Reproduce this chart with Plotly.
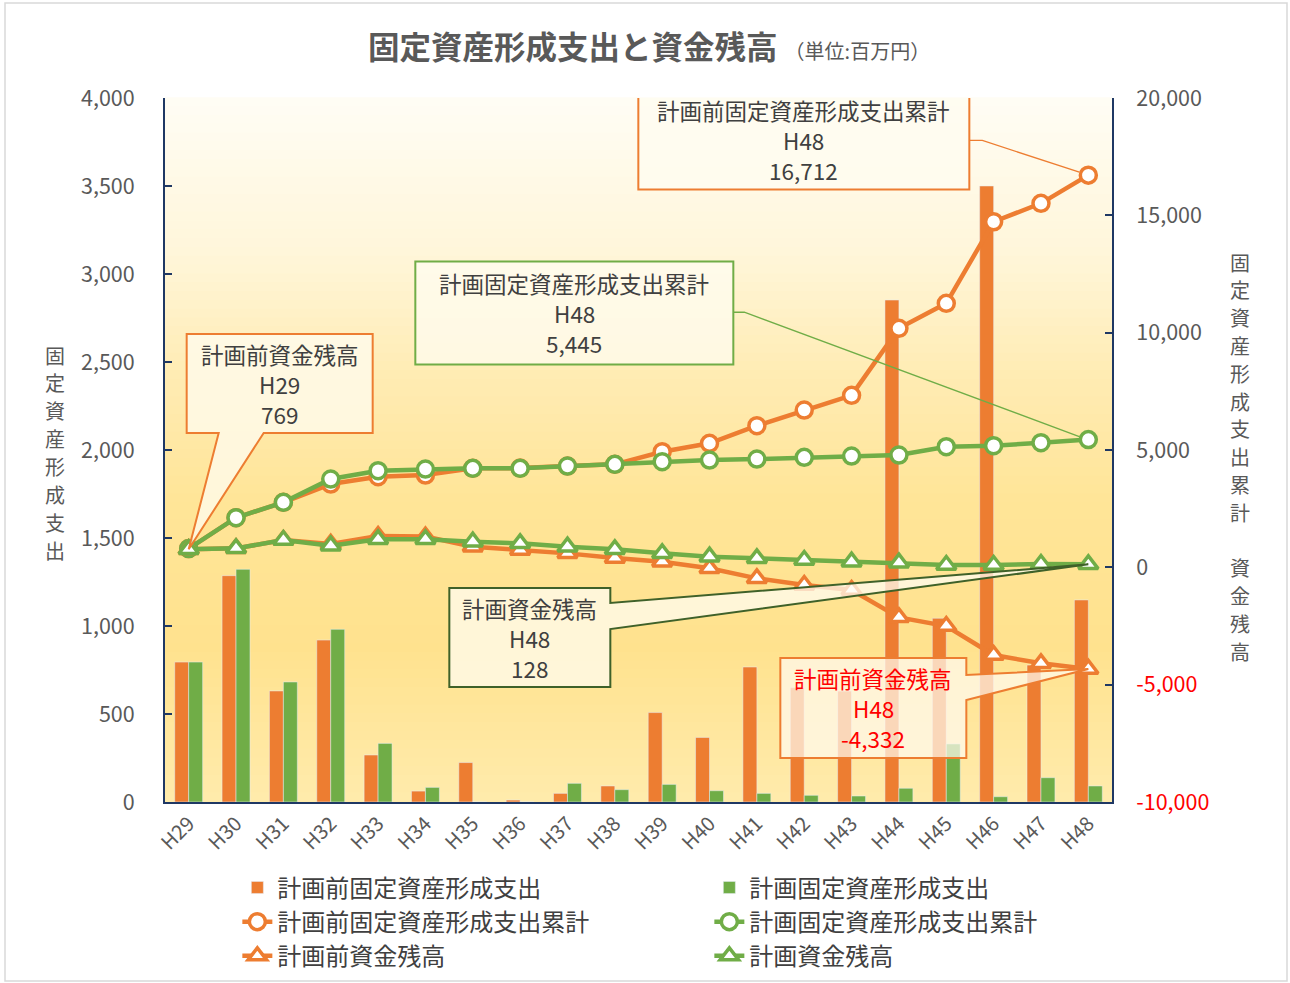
import plotly.graph_objects as go

# ---------------- data ----------------
categories = ["H29", "H30", "H31", "H32", "H33", "H34", "H35", "H36", "H37", "H38",
              "H39", "H40", "H41", "H42", "H43", "H44", "H45", "H46", "H47", "H48"]
pre_capex = [795, 1286, 631, 920, 267, 62, 224, 11, 49, 91,
             508, 367, 767, 650, 630, 2852, 1044, 3500, 778, 1148]
plan_capex = [795, 1322, 682, 981, 333, 83, 0, 0, 106, 70,
              100, 64, 49, 38, 34, 78, 330, 30, 138, 91]
pre_cum = [800, 2114, 2770, 3550, 3861, 3933, 4218, 4229, 4317, 4389,
           4927, 5284, 6035, 6703, 7329, 10184, 11250, 14727, 15511, 16712]
plan_cum = [800, 2114, 2770, 3763, 4117, 4189, 4218, 4218, 4317, 4389,
            4500, 4572, 4615, 4687, 4743, 4786, 5140, 5183, 5310, 5445]
pre_bal = [769, 809, 1163, 1000, 1335, 1310, 880, 740, 595, 400,
           242, -43, -469, -754, -967, -2131, -2501, -3737, -4091, -4332]
plan_bal = [769, 809, 1163, 920, 1193, 1193, 1092, 1023, 878, 767,
            597, 452, 384, 311, 239, 196, 98, 98, 141, 128]

left_ticks = [0, 500, 1000, 1500, 2000, 2500, 3000, 3500, 4000]
right_ticks = [-10000, -5000, 0, 5000, 10000, 15000, 20000]

names = ["計画前固定資産形成支出", "計画固定資産形成支出",
         "計画前固定資産形成支出累計", "計画固定資産形成支出累計",
         "計画前資金残高", "計画資金残高"]

left_title = "固定資産形成支出"
right_title = "固定資産形成支出累計　資金残高"

ORANGE = "#ED7D31"
GREEN = "#70AD47"
NAVY = "#1F3864"
TXT = "#595959"
FONT = "Noto Sans CJK JP"

fig = go.Figure()
fig.add_trace(go.Bar(x=categories, y=pre_capex, name=names[0], marker_color=ORANGE, yaxis="y"))
fig.add_trace(go.Bar(x=categories, y=plan_capex, name=names[1], marker_color=GREEN, yaxis="y"))

def line_trace(y, name, color, symbol):
    return go.Scatter(x=categories, y=y, name=name, yaxis="y2", mode="lines+markers",
                      line=dict(color=color, width=4.5),
                      marker=dict(symbol=symbol, size=16 if symbol == "circle" else 17,
                                  color="white", line=dict(color=color, width=3.5)))

fig.add_trace(line_trace(pre_cum, names[2], ORANGE, "circle"))
fig.add_trace(line_trace(plan_cum, names[3], GREEN, "circle"))
fig.add_trace(line_trace(pre_bal, names[4], ORANGE, "triangle-up"))
fig.add_trace(line_trace(plan_bal, names[5], GREEN, "triangle-up"))

# ---------------- background gradient ----------------
stops = [(0.0, (255, 253, 245)), (0.22, (255, 246, 218)), (0.39, (255, 236, 180)),
         (0.57, (255, 229, 152)), (0.78, (255, 226, 142)), (1.0, (255, 235, 172))]

def grad_color(t):
    for (t0, c0), (t1, c1) in zip(stops[:-1], stops[1:]):
        if t0 <= t <= t1:
            f = (t - t0) / (t1 - t0)
            return "rgb(%d,%d,%d)" % tuple(round(a + (b - a) * f) for a, b in zip(c0, c1))
    return "rgb(%d,%d,%d)" % stops[-1][1]

shapes = []
N = 80
for i in range(N):
    top = 1 - i / N
    bot = 1 - (i + 1) / N
    shapes.append(dict(type="rect", xref="paper", yref="paper", x0=0, x1=1, y0=bot, y1=top + 0.001,
                       fillcolor=grad_color((i + 0.5) / N), line=dict(width=0), layer="below"))

# page border
shapes.append(dict(type="rect", xref="paper", yref="paper",
                   x0=(5 - 165) / 947, x1=(1287 - 165) / 947,
                   y0=(802 - 981) / 704, y1=(802 - 3) / 704,
                   line=dict(color="#D9D9D9", width=1.5), fillcolor="rgba(0,0,0,0)", layer="below"))

# ---------------- callouts ----------------
def pix_path(pts, close=True):
    s = "M " + " L ".join("%g %g" % p for p in pts)
    return s + (" Z" if close else "")

def callout(cat, val, pts, fill, border, bw=2, close=True):
    return dict(type="path", xref="x", yref="y2", xsizemode="pixel", ysizemode="pixel",
                xanchor=cat, yanchor=val, path=pix_path(pts, close),
                fillcolor=fill if close else "rgba(0,0,0,0)",
                line=dict(color=border, width=bw), layer="above")

CREAM = "rgba(255,252,240,0.75)"
last = categories[-1]
first = categories[0]

# box 1 : pre cumulative, H48
shapes.append(callout(last, pre_cum[-1], [(-450, 83.7), (-119, 83.7), (-119, -14.3), (-450, -14.3)],
                      CREAM, ORANGE))
shapes.append(callout(last, pre_cum[-1], [(-119, 34.7), (-106, 34.7), (-9, 3)], None, ORANGE, 1.3, close=False))
# box 2 : plan cumulative, H48
shapes.append(callout(last, plan_cum[-1], [(-673, 178), (-355, 178), (-355, 75), (-673, 75)],
                      CREAM, GREEN))
shapes.append(callout(last, plan_cum[-1], [(-355, 127.3), (-344, 127.3), (-9, 3)], None, GREEN, 1.3, close=False))
# box 3 : pre balance, H29
shapes.append(callout(first, pre_bal[0], [(-2, 215.3), (184, 215.3), (184, 116.3), (75, 116.3), (0, 0),
                                          (30, 116.3), (-2, 116.3)], CREAM, ORANGE))
# box 4 : plan balance, H48
shapes.append(callout(last, plan_bal[-1], [(-639, -23.7), (-478, -23.7), (-478, -38.7), (0, 0),
                                           (-478, -64.7), (-478, -122.7), (-639, -122.7)],
                      CREAM, "#3F6129"))
# box 5 : pre balance, H48
shapes.append(callout(last, pre_bal[-1], [(-308, 11), (-122, 11), (-122, -6), (0, 0), (-122, -31),
                                          (-122, -89), (-308, -89)], "rgba(255,250,238,0.72)", ORANGE))

annotations = []

def ctext(cat, val, lines, dx, dy, color="#404040"):
    for k, label in enumerate(lines):
        annotations.append(dict(x=cat, y=val, xref="x", yref="y2", showarrow=False,
                                xshift=dx, yshift=dy + 30 * (1 - k), borderpad=0,
                                xanchor="center", yanchor="middle", align="center",
                                text=label, font=dict(family=FONT, size=22.5, color=color)))

ctext(last, pre_cum[-1], [names[2], last, f"{pre_cum[-1]:,}"], -284.5, 34.7)
ctext(last, plan_cum[-1], [names[3], last, f"{plan_cum[-1]:,}"], -514, 126.5)
ctext(first, pre_bal[0], [names[4], first, f"{pre_bal[0]:,}"], 91, 165.3)
ctext(last, plan_bal[-1], [names[5], last, f"{plan_bal[-1]:,}"], -558.5, -73.2)
ctext(last, pre_bal[-1], [names[4], last, f"{pre_bal[-1]:,}"], -215, -39, "#FF0000")

# title
annotations.append(dict(xref="paper", yref="paper", x=(649 - 165) / 947, y=(802 - 45) / 704,
                        xanchor="center", yanchor="middle", showarrow=False,
                        text="<b>固定資産形成支出と資金残高</b> <span style='font-size:20px'>（単位:百万円）</span>",
                        font=dict(family=FONT, size=31.5, color=TXT)))

# axis titles (vertical, one character per row)
def vtitle(text, px, py_first, step):
    for k, ch in enumerate(text):
        if ch.strip() == "" or ch == "　":
            continue
        annotations.append(dict(xref="paper", yref="paper", x=(px - 165) / 947,
                                y=(802 - (py_first + step * k)) / 704, borderpad=0,
                                xanchor="center", yanchor="middle", showarrow=False, text=ch,
                                font=dict(family=FONT, size=20, color=TXT)))

vtitle(left_title, 55, 355, 27.9)
vtitle(right_title, 1240, 262, 27.8)

right_text = [f"<span style='color:#FF0000'>{v:,}</span>" if v < 0 else f"{v:,}" for v in right_ticks]

fig.update_layout(
    width=1290, height=983,
    margin=dict(l=165, r=178, t=98, b=181, autoexpand=False),
    paper_bgcolor="white", plot_bgcolor="rgba(0,0,0,0)",
    font=dict(family=FONT, color=TXT),
    barmode="group", bargap=0.41, bargroupgap=0,
    showlegend=True,
    legend=dict(orientation="h", x=0.0764, y=-0.09, xanchor="left", yanchor="top",
                entrywidth=427, entrywidthmode="pixels", traceorder="normal",
                font=dict(family=FONT, size=24, color="#404040"), bgcolor="rgba(0,0,0,0)"),
    xaxis=dict(type="category", range=[-0.5, len(categories) - 0.5], showline=True,
               linecolor=NAVY, linewidth=2,
               ticks="", tickangle=-45, tickfont=dict(size=20, color=TXT),
               showgrid=False, zeroline=False, automargin=False),
    yaxis=dict(range=[0, 4000], tickvals=left_ticks, tickformat=",", showline=True,
               linecolor=NAVY, linewidth=2, ticks="inside", ticklen=7, tickwidth=2, tickcolor=NAVY,
               tickfont=dict(size=21.5, color=TXT), showgrid=False, zeroline=False, ticklabelstandoff=24,
               automargin=False),
    yaxis2=dict(range=[-10000, 20000], tickvals=right_ticks, ticktext=right_text,
                overlaying="y", side="right", showline=True, linecolor=NAVY, linewidth=2,
                ticks="inside", ticklen=7, tickwidth=2, tickcolor=NAVY,
                tickfont=dict(size=21.5, color=TXT), showgrid=False, zeroline=False, ticklabelstandoff=18,
                automargin=False),
    shapes=shapes,
    annotations=annotations,
)

fig.write_html("out.html")
